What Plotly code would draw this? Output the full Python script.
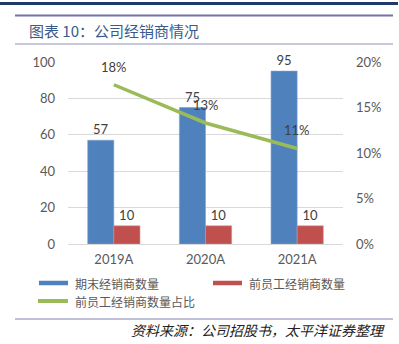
import plotly.graph_objects as go

categories = ["2019A", "2020A", "2021A"]
dealers_end = [57, 75, 95]
former_staff_dealers = [10, 10, 10]
former_staff_share = [0.175, 0.133, 0.105]
share_labels = ["18%", "13%", "11%"]

W, H = 399, 344
def py(p):
    return 1 - p / H
def px(p):
    return p / W

blue = "#4F81BD"
red = "#C0504D"
green = "#9BBB59"
grey = "#595959"
cjk = "Noto Sans CJK SC"
num_font = "Lato"

fig = go.Figure()
fig.add_trace(go.Bar(
    x=categories, y=dealers_end, name="期末经销商数量",
    marker=dict(color=blue, line=dict(color="#7FA3D3", width=0.6)),
    text=[str(v) for v in dealers_end], textposition="outside",
    textfont=dict(family=num_font, size=13, color="#404040"),
    cliponaxis=False, offsetgroup="a"))
fig.add_trace(go.Bar(
    x=categories, y=former_staff_dealers, name="前员工经销商数量",
    marker=dict(color=red, line=dict(color="#D98A88", width=0.6)),
    text=[str(v) for v in former_staff_dealers], textposition="outside",
    textfont=dict(family=num_font, size=13, color="#404040"),
    cliponaxis=False, offsetgroup="b"))
fig.add_trace(go.Scatter(
    x=categories, y=former_staff_share, name="前员工经销商数量占比",
    mode="lines", line=dict(color=green, width=3.5), yaxis="y2"))

annotations = []
for c, v, t in zip(categories, former_staff_share, share_labels):
    annotations.append(dict(x=c, y=v, xref="x", yref="y2", text=t, showarrow=False,
                            yshift=18, font=dict(family=num_font, size=13, color="#404040")))

# legend (manual)
legend_items = [
    (39, 68, 283, 4.5, blue, 73, "期末经销商数量"),
    (213, 242, 283, 4.5, red, 247, "前员工经销商数量"),
    (38, 68, 301, 4, green, 73, "前员工经销商数量占比"),
]
shapes = []
for x0, x1, yc, th, col, tx, label in legend_items:
    shapes.append(dict(type="line", xref="paper", yref="paper", x0=px(x0), x1=px(x1),
                       y0=py(yc), y1=py(yc), line=dict(color=col, width=th)))
    annotations.append(dict(x=px(tx), y=py(yc), xref="paper", yref="paper", text=label,
                            showarrow=False, xanchor="left", yanchor="middle",
                            font=dict(family=cjk, size=12, color=grey)))

# decorative header/footer lines
shapes += [
    dict(type="rect", xref="paper", yref="paper", x0=0, x1=px(398), y0=py(5), y1=py(2),
         fillcolor="#1F3A68", line=dict(width=0)),
    dict(type="line", xref="paper", yref="paper", x0=px(15), x1=px(393), y0=py(15.5), y1=py(15.5),
         line=dict(color="#7373A6", width=2)),
    dict(type="line", xref="paper", yref="paper", x0=px(15), x1=px(393), y0=py(44), y1=py(44),
         line=dict(color="#9090BA", width=1)),
    dict(type="line", xref="paper", yref="paper", x0=px(15), x1=px(393), y0=py(319), y1=py(319),
         line=dict(color="#8080B0", width=1)),
]

annotations.append(dict(x=px(27), y=py(30), xref="paper", yref="paper",
                        text="图表 10：公司经销商情况", showarrow=False,
                        xanchor="left", yanchor="middle",
                        font=dict(family=cjk, size=15, color="#3A5A8C")))
annotations.append(dict(x=px(387), y=py(330), xref="paper", yref="paper",
                        text="资料来源：公司招股书，太平洋证券整理", showarrow=False,
                        xanchor="right", yanchor="middle",
                        font=dict(family=cjk, size=14, color="#222222", style="italic")))

fig.update_layout(
    template="none",
    width=W, height=H, margin=dict(l=0, r=0, t=0, b=0, pad=0, autoexpand=False),
    paper_bgcolor="white", plot_bgcolor="white",
    barmode="group", bargap=0.43, bargroupgap=0,
    showlegend=False,
    xaxis=dict(domain=[px(68), px(343)], showgrid=False, showline=False, ticks="",
               automargin=False, zeroline=False,
               tickfont=dict(family=num_font, size=13, color=grey), ticklabelstandoff=6),
    yaxis=dict(domain=[py(244), py(62)], range=[0, 100], dtick=20, automargin=False,
               showgrid=True, gridcolor="#D9D9D9", gridwidth=1, showline=False,
               zeroline=True, zerolinecolor="#D9D9D9", zerolinewidth=1,
               ticks="", tickfont=dict(family=num_font, size=13, color=grey),
               ticklabelstandoff=12),
    yaxis2=dict(overlaying="y", side="right", range=[0, 0.2], dtick=0.05, tickformat=".0%",
                showgrid=False, zeroline=False, ticks="", automargin=False, showline=False,
                tickfont=dict(family=num_font, size=13, color=grey), ticklabelstandoff=12),
    shapes=shapes, annotations=annotations,
)

fig.write_html("out.html")
